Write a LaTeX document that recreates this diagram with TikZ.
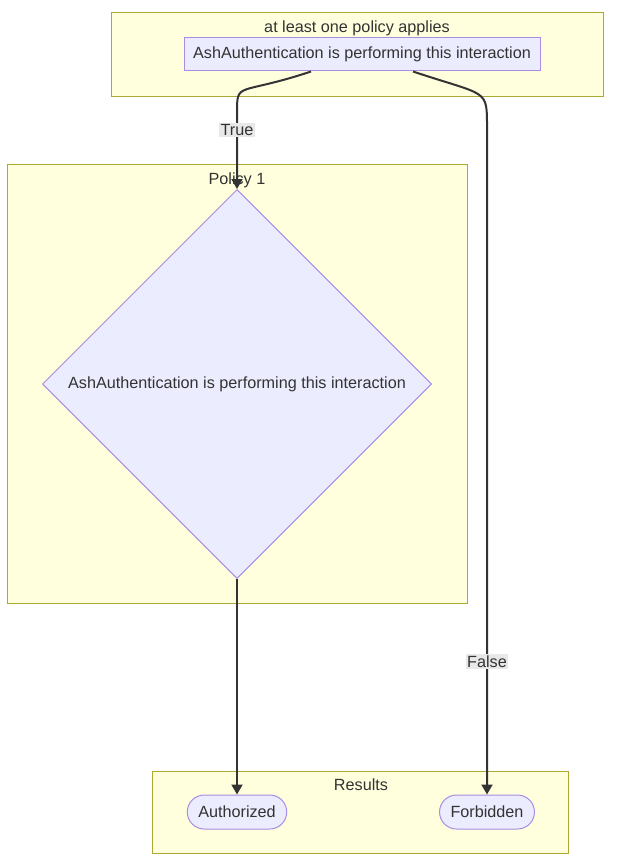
\documentclass[tikz,border=0pt]{standalone}
\usepackage{fontspec}
\setmainfont{Liberation Sans}
\usetikzlibrary{shapes.geometric, arrows.meta}
\definecolor{clusterfill}{HTML}{ffffde}
\definecolor{clusterdraw}{HTML}{aaaa33}
\definecolor{nodefill}{HTML}{ececff}
\definecolor{nodedraw}{HTML}{9370db}
\definecolor{edgecol}{HTML}{333333}
\definecolor{lblfill}{HTML}{e8e8e8}
\tikzstyle{cluster} = [
    rectangle,
    fill=clusterfill,
    draw=clusterdraw,
    line width=1pt,
    inner sep=0pt,
]
\tikzstyle{ctitle} = [anchor=north, text=edgecol, inner sep=0pt]
\tikzstyle{rect} = [
    rectangle,
    align=center,
    minimum height=33pt,
    text centered,
    text=edgecol,
    fill=nodefill,
    draw=nodedraw!80,
    line width=1pt,
]
\tikzstyle{pill} = [rect, rounded corners=17pt, minimum height=34pt, inner xsep=11pt]
\tikzstyle{decide} = [rect, diamond, aspect=1, minimum size=389pt, inner sep=0pt]
\tikzstyle{lbl} = [fill=lblfill, text=edgecol, inner sep=1.5pt]
\tikzstyle{arrow} = [line width=2pt, draw=edgecol, ->, >={Triangle[length=10pt,width=11pt]}]

\begin{document}
\begin{tikzpicture}[x=1pt, y=-1pt, font=\fontsize{16.2}{19}\selectfont]
    \useasboundingbox (0,0) rectangle (619,867);
    % subgraphs
    \node (ap) [cluster, minimum width=492pt, minimum height=83pt] at (357,54.5) {};
    \node (apt) [ctitle] at (357,21) {at least one policy applies};
    \node (p1) [cluster, minimum width=460pt, minimum height=439pt] at (237,383.5) {};
    \node (p1t) [ctitle] at (237,173) {Policy 1};
    \node (rs) [cluster, minimum width=416pt, minimum height=82pt] at (360,812) {};
    \node (rst) [ctitle] at (361,779) {Results};

    % nodes
    \node (tn) [rect, minimum width=356pt] at (362,54.5) {AshAuthentication is performing this interaction};
    \node (pd) [decide] at (237,384) {AshAuthentication is performing this interaction};
    \node (au) [pill] at (237,812) {Authorized};
    \node (fb) [pill] at (487,812) {Forbidden};

    \coordinate (tbend) at (237,115);
    \coordinate (fbend) at (487,128);

    % edges
    \draw [arrow] ([xshift=-51pt]tn.south) .. controls +(-75,25) and +(0,-35) .. (tbend)
        -- node[lbl, pos=0.2] {True} (pd.north);
    \draw [arrow] ([xshift=51pt]tn.south) .. controls +(75,25) and +(0,-40) .. (fbend)
        -- node[lbl, pos=0.8] {False} (fb.north);
    \draw [arrow] (pd.south) -- (au.north);
\end{tikzpicture}
\end{document}
